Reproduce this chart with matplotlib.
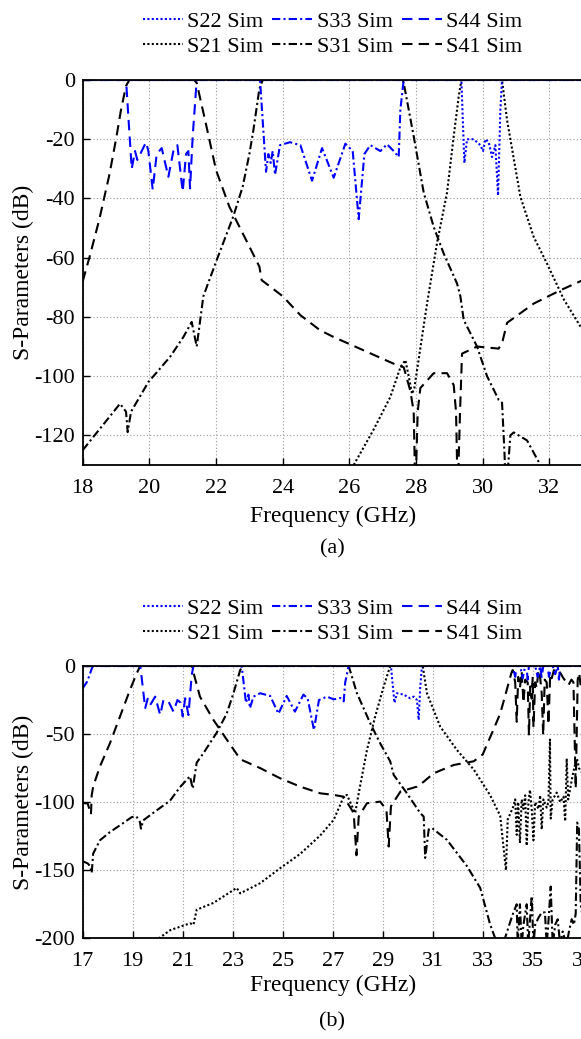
import matplotlib
matplotlib.use("Agg")
import matplotlib.pyplot as plt
from matplotlib.lines import Line2D

plt.rcParams['font.family'] = ['Liberation Serif', 'DejaVu Serif']
plt.rcParams['font.size'] = 16
plt.rcParams['axes.unicode_minus'] = False

# ---------------- Panel (a) data ----------------
a_s41_f = [18.0, 18.2, 18.5, 18.8, 19.0, 19.15, 19.3, 19.4, 21.35, 21.42, 21.7, 22.0, 22.4, 22.9, 23.3, 23.37,
           24.0, 24.53, 25.12, 25.53, 26.53, 27.43, 27.63, 27.83, 27.93, 27.98, 28.05, 28.13, 28.53, 28.93, 29.13,
           29.2, 29.25, 29.32, 29.38, 29.83, 30.48, 30.6, 30.73, 31.53, 32.33, 33.0]
a_s41_db = [-68, -60, -47, -32, -20, -10, -2, 0, 0, -1, -15, -30.4, -42.8, -54, -63, -67.6,
            -73, -79.4, -84.5, -86.8, -91.8, -96.3, -97, -105, -112, -140, -112, -104, -99, -99, -103,
            -112, -140, -112, -92.4, -90, -90.7, -88, -82, -75.5, -71, -67.6]

a_s31_f = [18.0, 19.12, 19.3, 19.35, 19.45, 19.97, 20.62, 21.02, 21.27, 21.42, 21.62, 22.02, 22.52, 22.8, 23.0,
           23.12, 23.3, 23.4, 27.6, 27.63, 27.93, 28.23, 28.53, 28.83, 29.23, 29.33, 29.43, 29.83, 30.13, 30.48,
           30.58, 30.65, 30.7, 30.83, 30.93, 31.33, 31.73, 32.0]
a_s31_db = [-125, -109.3, -112, -118.9, -112, -102, -93.5, -86.8, -81.7, -90, -73, -60.8, -46, -36, -25,
            -17, -3, 0, 0, -1, -19, -38, -49.6, -58.6, -68.7, -73, -81, -90, -100, -108,
            -109, -125, -140, -120, -119, -121.7, -130, -138]

a_s21_f = [25.8, 26.13, 26.73, 27.23, 27.53, 27.68, 27.78, 27.88, 27.95, 28.03, 28.33, 28.63, 28.93, 29.13,
           29.28, 29.36, 30.58, 30.73, 31.13, 31.53, 31.93, 32.43, 33.0]
a_s21_db = [-138, -130, -118, -107, -97, -94.6, -100, -106, -104, -98, -75.5, -55, -38, -19,
            -5.6, 0, 0, -13.5, -39.4, -53, -62, -74, -84.5]

a_s44_f = [18.0, 19.3, 19.47, 19.57, 19.64, 19.77, 19.9, 19.97, 20.1, 20.22, 20.37, 20.57, 20.72, 20.84,
           21.0, 21.1, 21.17, 21.22, 21.3, 21.42, 33.0]
a_s44_db = [0, 0, -30, -24, -27, -24, -21, -24, -37, -25, -23, -32.7, -24, -22,
            -37.7, -25, -24, -36.6, -19, 0, 0]

a_s33_f = [18.0, 23.32, 23.5, 23.57, 23.64, 23.7, 23.77, 23.92, 24.22, 24.53, 24.88, 25.18, 25.53, 25.88,
           26.1, 26.28, 26.45, 26.63, 26.93, 27.13, 27.33, 27.48, 27.53, 27.63, 33.0]
a_s33_db = [0, 0, -31, -25, -28, -24, -32, -22, -21, -22, -34, -23, -33, -21.5,
            -24, -47, -25, -22, -24, -21.7, -24, -26, -10, 0, 0]

a_s22_f = [18.0, 29.36, 29.45, 29.53, 29.73, 29.93, 30.01, 30.08, 30.18, 30.28, 30.38, 30.46, 30.53, 30.58, 33.0]
a_s22_db = [0, 0, -28, -20, -20, -22, -24, -20, -21, -26, -22, -39, -10, 0, 0]

# ---------------- Panel (b) data ----------------
b_s41_f = [17.0, 17.2, 17.33, 17.36, 17.42, 17.69, 18.09, 18.49, 18.89, 19.16, 19.3, 21.36, 21.69, 22.23,
           22.76, 23.23, 23.36, 24.1, 24.9, 25.7, 26.5, 27.04, 27.44, 27.84, 27.95, 28.04, 28.37, 28.9,
           29.15, 29.24, 29.33, 29.71, 30.37, 30.64, 31.04, 31.84, 32.64, 33.0, 33.4, 33.7, 34.0, 34.15,
           34.2, 34.3, 34.36, 34.42, 34.49, 34.56, 34.63, 34.7, 34.8, 34.85, 34.9, 34.96, 35.0, 35.03,
           35.1, 35.16, 35.23, 35.29, 35.36, 35.42, 35.48, 35.56, 35.63, 35.7, 35.76, 35.85, 35.96, 36.1,
           36.23, 36.35, 36.43, 36.55, 36.63, 36.72, 36.8, 36.86, 36.92, 37.0]
b_s41_db = [-100.6, -101, -109, -95, -88.4, -73.8, -56.7, -37.2, -17.6, -5.4, 0, 0, -22.5, -39.6,
            -54, -66.5, -69, -75, -82.5, -88.6, -93.5, -94.7, -96, -108, -139, -110.6, -100.8, -99.6,
            -105.7, -132.6, -103, -92.2, -88.6, -85, -78.8, -72.7, -70, -65, -48, -35, -15, -5,
            -3, -12, -41, -8, -16, -4, -27, -10, -12, -51, -15, -24, -8, -45,
            -12, -16, -3, -7, -20, -51, -10, -12, -43, -6, -9, -3, -2, -5,
            -9, -12, -14, -10, -12, -90, -10, -5, -15, -8]

b_s31_f = [17.0, 17.2, 17.3, 17.36, 17.42, 17.69, 18.09, 18.49, 18.96, 19.15, 19.29, 19.33, 19.42, 19.96,
           20.49, 20.89, 21.29, 21.4, 21.56, 21.83, 22.36, 22.76, 23.03, 23.3, 23.4, 27.64, 27.97, 28.5,
           28.9, 29.3, 29.44, 29.97, 30.5, 30.64, 30.7, 30.84, 30.97, 31.57, 32.37, 32.9, 33.3, 33.5,
           33.7, 33.89, 34.1, 34.23, 34.36, 34.4, 34.49, 34.56, 34.63, 34.76, 34.82, 34.96, 35.03, 35.1,
           35.23, 35.36, 35.49, 35.56, 35.64, 35.72, 35.8, 35.9, 36.0, 36.1, 36.2, 36.35, 36.45, 36.56,
           36.65, 36.72, 36.78, 36.85, 36.92, 37.0]
b_s31_db = [-143.4, -145, -147, -152, -137.7, -128, -122, -117, -111, -110.5, -114.6, -119.5, -113.4, -106,
            -99, -89, -81, -90, -71, -64, -49, -35, -20, -3, 0, 0, -20, -42,
            -56.8, -70, -80, -93.5, -108, -110.6, -141, -120, -119, -127.7, -147, -163, -190, -200,
            -210, -200, -188, -181, -175, -205, -175, -205, -190, -175, -205, -169, -205, -190,
            -185, -181, -181, -205, -185, -162, -205, -190, -186, -205, -195, -205, -195, -186,
            -190, -182, -115, -120, -175, -185]

b_s21_f = [19.9, 20.5, 21.29, 21.43, 21.56, 22.23, 23.16, 23.3, 24.1, 24.9, 25.7, 26.5, 27.04, 27.44,
           27.57, 27.84, 27.9, 28.04, 28.37, 28.7, 29.04, 29.3, 30.6, 30.77, 31.3, 31.97, 32.64, 33.3,
           33.7, 33.93, 34.0, 34.23, 34.3, 34.36, 34.42, 34.49, 34.56, 34.63, 34.7, 34.76, 34.83, 34.89,
           34.96, 35.03, 35.1, 35.23, 35.3, 35.36, 35.43, 35.56, 35.63, 35.69, 35.72, 35.8, 35.96, 36.1,
           36.23, 36.3, 36.36, 36.42, 36.5, 36.6, 36.7, 36.77, 36.85, 37.0]
b_s21_db = [-202, -194, -189, -190, -179, -174, -163, -167, -159.5, -148.5, -138, -124.5, -113, -96,
            -94.7, -105.7, -108, -93.5, -61.7, -37, -15, 0, 0, -20, -44.5, -61.7, -76, -95,
            -110, -150, -112.8, -103, -98, -124, -100, -130, -98, -105, -95, -132, -100, -91,
            -105, -128, -100, -105, -95, -120, -98, -104, -100, -54, -112, -98, -93, -100,
            -96, -114, -68, -98, -90, -80, -72, -68, -75, -79]

b_s44_f = [17.0, 19.3, 19.33, 19.5, 19.6, 19.7, 19.9, 20.1, 20.23, 20.43, 20.63, 20.79, 20.92, 21.0,
           21.1, 21.23, 21.36, 21.43, 34.2, 34.3, 34.36, 34.75, 34.8, 34.85, 35.3, 35.36, 35.42, 35.6,
           35.65, 35.75, 36.0, 36.05, 36.1, 37.0]
b_s44_db = [0, 0, -4, -31, -24, -28.6, -22.5, -36, -25, -26, -33.5, -25, -27, -37,
            -23.7, -36, -6.6, 0, 0, -8, 0, 0, -10, 0, 0, -9, 0, 0,
            -8, 0, 0, -10, 0, 0]

b_s33_f = [17.0, 17.16, 17.27, 17.36, 17.42, 23.36, 23.53, 23.63, 23.69, 23.83, 24.1, 24.5, 24.83, 25.16,
           25.49, 25.83, 26.0, 26.25, 26.45, 26.77, 27.04, 27.31, 27.44, 27.5, 27.64, 34.5, 34.6, 34.7,
           35.1, 35.2, 35.3, 35.8, 35.9, 36.0, 37.0]
b_s33_db = [-16.4, -12, -7, -2, 0, 0, -27, -21, -31, -22.5, -20, -22, -35, -22,
            -33.5, -21, -24, -47, -25, -22.5, -24.5, -23.5, -26, -12, 0, 0, -9, 0,
            0, -8, 0, 0, -6, 0, 0]

b_s22_f = [17.0, 29.33, 29.47, 29.57, 29.84, 30.1, 30.24, 30.37, 30.44, 30.5, 30.57, 37.0]
b_s22_db = [0, 0, -27, -20, -21, -23.7, -22.5, -25, -39.6, -16, 0, 0]

a_xticks = [18, 20, 22, 24, 26, 28, 30, 32]
a_yticks = [0, -20, -40, -60, -80, -100, -120]
b_xticks = [17, 19, 21, 23, 25, 27, 29, 31, 33, 35, 37]
b_yticks = [0, -50, -100, -150, -200]

legend_labels = ['S22 Sim', 'S33 Sim', 'S44 Sim', 'S21 Sim', 'S31 Sim', 'S41 Sim']

# ---------------- styles ----------------
DOT = (0, (1, 1.1))
DASHDOT = (0, (4, 1.5, 1, 1.5))
DASH = (0, (5, 3))
BLUE = '#0000ff'
LW = 1.5

W, H = 581, 1039
fig = plt.figure(figsize=(W / 100, H / 100), dpi=100)

def px_axes(left, top, right, bottom):
    return fig.add_axes([left / W, 1 - bottom / H, (right - left) / W, (bottom - top) / H])

ax_a = px_axes(82.7, 80, 582.7, 465)
ax_b = px_axes(82.7, 666, 582.7, 938.3)

def draw(ax, data, xlim, ylim, xticks, yticks, xpad, xlabelpad, legy):
    (s21, s31, s41, s22, s33, s44) = data
    ax.plot(*s21, color='black', ls=DOT, lw=LW)
    ax.plot(*s31, color='black', ls=DASHDOT, lw=LW)
    ax.plot(*s41, color='black', ls=DASH, lw=LW)
    ax.plot(*s44, color=BLUE, ls=DASH, lw=LW)
    ax.plot(*s33, color=BLUE, ls=DASHDOT, lw=LW)
    ax.plot(*s22, color=BLUE, ls=DOT, lw=LW)
    ax.set_xlim(*xlim)
    ax.set_ylim(*ylim)
    ax.set_xticks(xticks)
    ax.set_yticks(yticks)
    ax.grid(True, color='#999999', ls=(0, (1, 2)), lw=0.8)
    ax.set_axisbelow(True)
    ax.tick_params(direction='in', length=5, width=1.0, labelsize=16)
    ax.tick_params(axis='x', pad=xpad)
    ax.tick_params(axis='y', pad=5.5)
    for s in ax.spines.values():
        s.set_linewidth(1.3)
    ax.set_xlabel('Frequency (GHz)', fontsize=17, labelpad=xlabelpad)
    ax.set_ylabel('S-Parameters (dB)', fontsize=17, labelpad=0.5)
    handles = [
        Line2D([], [], color=BLUE, ls=DOT, lw=LW),
        Line2D([], [], color='black', ls=DOT, lw=LW),
        Line2D([], [], color=BLUE, ls=DASHDOT, lw=LW),
        Line2D([], [], color='black', ls=DASHDOT, lw=LW),
        Line2D([], [], color=BLUE, ls=DASH, lw=LW),
        Line2D([], [], color='black', ls=DASH, lw=LW),
    ]
    labels = [legend_labels[0], legend_labels[3], legend_labels[1],
              legend_labels[4], legend_labels[2], legend_labels[5]]
    ax.legend(handles, labels, ncol=3, loc='lower center', bbox_to_anchor=(0.5, legy),
              frameon=False, fontsize=16, handlelength=1.8, handletextpad=0.2,
              columnspacing=0.4, labelspacing=0.2, borderpad=0.1)

draw(ax_a, ((a_s21_f, a_s21_db), (a_s31_f, a_s31_db), (a_s41_f, a_s41_db),
            (a_s22_f, a_s22_db), (a_s33_f, a_s33_db), (a_s44_f, a_s44_db)),
     (18, 33), (-130, 0), a_xticks, a_yticks, 10.3, 5.2, 1.026)
draw(ax_b, ((b_s21_f, b_s21_db), (b_s31_f, b_s31_db), (b_s41_f, b_s41_db),
            (b_s22_f, b_s22_db), (b_s33_f, b_s33_db), (b_s44_f, b_s44_db)),
     (17, 37), (-200, 0), b_xticks, b_yticks, 10.0, 2.5, 1.033)

fig.text(332 / W, 1 - 549 / H, '(a)', ha='center', va='center', fontsize=16)
fig.text(332 / W, 1 - 1022 / H, '(b)', ha='center', va='center', fontsize=16)

fig.savefig('out.png', dpi=100)
